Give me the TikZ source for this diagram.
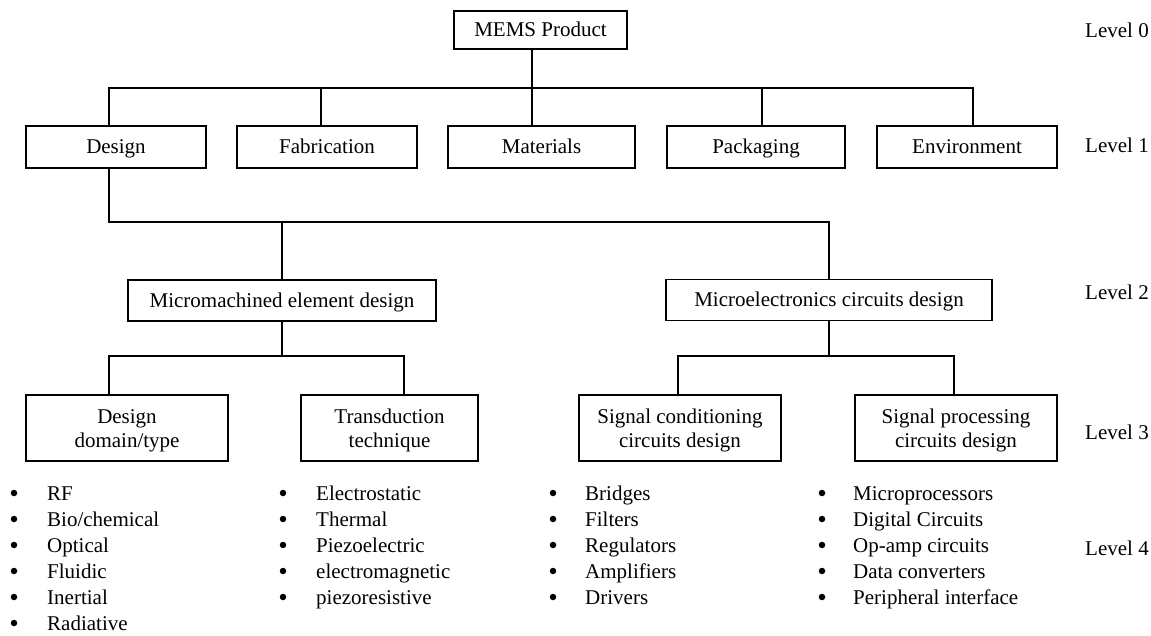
\documentclass[tikz,border=0pt]{standalone}
\usepackage{fontspec}
\setmainfont{Liberation Serif}
\usepackage{xcolor}
\usepackage{tikz}
\usetikzlibrary{calc, positioning}

\tikzset{
    box/.style={draw, line width=1.2pt, inner sep=0pt, font=\fontsize{21}{24}\selectfont,
        text height=18pt, text depth=4pt},
    bigbox/.style={draw, line width=1.2pt, inner sep=0pt, align=center,
        font=\fontsize{21}{24}\selectfont, text height=42pt, text depth=4pt},
    item/.style={anchor=base west, inner sep=0pt, font=\fontsize{21}{24}\selectfont},
    dot/.style={circle, fill, inner sep=0pt, minimum size=6.5pt},
    lvl/.style={anchor=base west, inner sep=0pt, font=\fontsize{21}{24}\selectfont},
    link/.style={line width=1.2pt}
}

\begin{document}
\begin{tikzpicture}[x=1pt, y=-1pt]
    \useasboundingbox (0,0) rectangle (1151,636);

    % Level 0 and 1
    \node[box, minimum width=173, minimum height=38] (mems) at (540.5,30) {MEMS Product};
    \node[box, minimum width=180, minimum height=42] (design) at (116,147) {Design};
    \node[box, minimum width=180, minimum height=42] (fab) at (327,147) {Fabrication};
    \node[box, minimum width=187, minimum height=42] (mat) at (541.5,147) {Materials};
    \node[box, minimum width=178, minimum height=42] (pack) at (756,147) {Packaging};
    \node[box, minimum width=180, minimum height=42] (env) at (967,147) {Environment};

    % Level 2
    \node[box, minimum width=308, minimum height=41] (micro) at (282,300.5) {Micromachined element design};
    \node[box, minimum width=326, minimum height=41] (elec) at (829,300) {Microelectronics circuits design};

    % Level 3
    \node[bigbox, minimum width=202, minimum height=66] (dom) at (127,428) {Design\\domain/type};
    \node[bigbox, minimum width=177, minimum height=66] (trans) at (389.5,428) {Transduction\\technique};
    \node[bigbox, minimum width=202, minimum height=66] (cond) at (680,428) {Signal conditioning\\circuits design};
    \node[bigbox, minimum width=202, minimum height=66] (proc) at (956,428) {Signal processing\\circuits design};

    % Connectors
    \coordinate (bus1) at (532,88);
    \draw[link] (bus1) -- (bus1 |- mems.south);
    \draw[link] (bus1) -- (bus1 |- mat.north);
    \draw[link] ([xshift=-7]design.north) |- (bus1) -| ([xshift=6]env.north);
    \draw[link] ([xshift=-6]fab.north) -- ([xshift=-6]fab.north |- bus1);
    \draw[link] ([xshift=6]pack.north) -- ([xshift=6]pack.north |- bus1);

    \coordinate (bus2) at (282,222);
    \draw[link] ([xshift=-7]design.south) |- (bus2) -| (elec.north);
    \draw[link] (bus2) -- (micro.north);

    \coordinate (bus3) at (282,356);
    \draw[link] (micro.south) -- (bus3);
    \draw[link] ([xshift=-18]dom.north) |- (bus3) -| ([xshift=14.5]trans.north);
    \coordinate (bus4) at (829,356);
    \draw[link] (elec.south) -- (bus4);
    \draw[link] ([xshift=-2]cond.north) |- (bus4) -| ([xshift=-2]proc.north);

    % Level 4
    \foreach \txt [count=\i] in {RF, Bio/chemical, Optical, Fluidic, Inertial, Radiative} {
        \node[dot] at (14,{467+26*\i}) {};
        \node[item] (dd\i) at (47,{474+26*\i}) {\txt};
    }
    \foreach \txt [count=\i] in {Electrostatic, Thermal, Piezoelectric, electromagnetic, piezoresistive} {
        \node[dot] at (283,{467+26*\i}) {};
        \node[item] (tt\i) at (316,{474+26*\i}) {\txt};
    }
    \foreach \txt [count=\i] in {Bridges, Filters, Regulators, Amplifiers, Drivers} {
        \node[dot] at (553,{467+26*\i}) {};
        \node[item] (sc\i) at (585,{474+26*\i}) {\txt};
    }
    \foreach \txt [count=\i] in {Microprocessors, Digital Circuits, Op-amp circuits, Data converters, Peripheral interface} {
        \node[dot] at (822,{467+26*\i}) {};
        \node[item] (sp\i) at (853,{474+26*\i}) {\txt};
    }

    % Levels
    \node[lvl] (lv0) at (1085,38) {Level 0};
    \node[lvl] (lv1) at (1085,153) {Level 1};
    \node[lvl] (lv2) at (1085,300) {Level 2};
    \node[lvl] (lv3) at (1085,439) {Level 3};
    \node[lvl] (lv4) at (1085,555) {Level 4};
\end{tikzpicture}
\end{document}
